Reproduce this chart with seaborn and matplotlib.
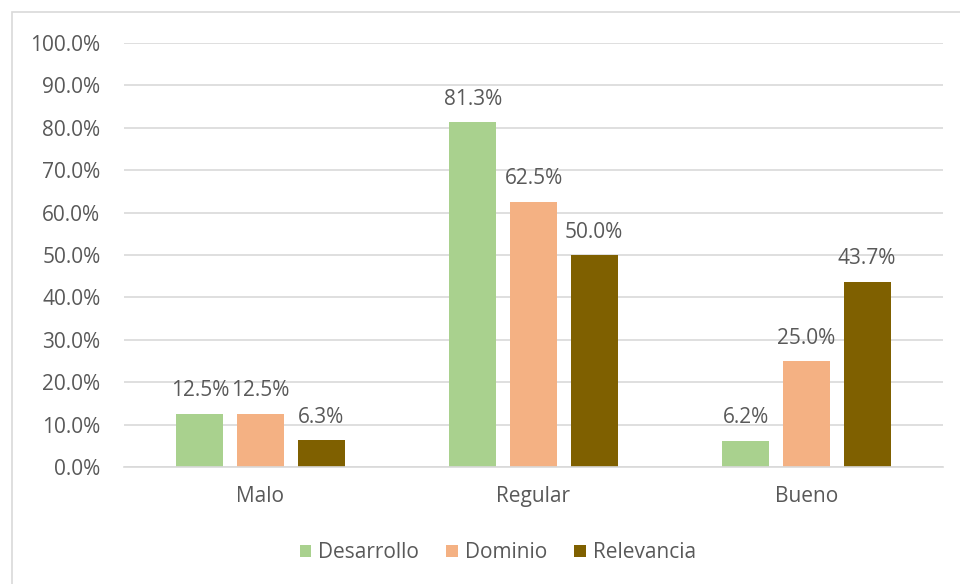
import matplotlib
matplotlib.use("Agg")
import matplotlib.pyplot as plt
import seaborn as sns
import pandas as pd
from matplotlib.patches import Rectangle

categories = ["Malo", "Regular", "Bueno"]
series = ["Desarrollo", "Dominio", "Relevancia"]
desarrollo = [12.5, 81.3, 6.2]
dominio = [12.5, 62.5, 25.0]
relevancia = [6.3, 50.0, 43.7]
colors = ["#A9D18E", "#F4B183", "#7F6000"]
yticks = [0, 10, 20, 30, 40, 50, 60, 70, 80, 90, 100]

rows = []
for name, vals in zip(series, [desarrollo, dominio, relevancia]):
    for c, v in zip(categories, vals):
        rows.append({"Categoria": c, "Serie": name, "Valor": v})
df = pd.DataFrame(rows)

sns.set_style("white")
plt.rcParams["font.family"] = ["Open Sans", "DejaVu Sans"]
text_color = "#595959"
fs = 15

fig = plt.figure(figsize=(9.6, 5.84), dpi=100)
ax = fig.add_axes([124 / 960, 1 - 467 / 584, 819 / 960, 424 / 584])

sns.barplot(data=df, x="Categoria", y="Valor", hue="Serie", order=categories,
            hue_order=series, palette=colors, width=0.666, gap=0.223,
            saturation=1, ax=ax, legend=True, errorbar=None, linewidth=0)

for cont in ax.containers:
    ax.bar_label(cont, labels=[f"{v:.1f}%" for v in cont.datavalues],
                 padding=9, fontsize=fs, color=text_color)

ax.set_ylim(0, 100)
ax.set_xlim(-0.5, 2.5)
ax.set_yticks(yticks)
ax.set_yticklabels([f"{t:.1f}%" for t in yticks])
ax.yaxis.grid(True, color="#D9D9D9", linewidth=1.2)
ax.set_axisbelow(True)
for s in ["top", "right", "left"]:
    ax.spines[s].set_visible(False)
ax.spines["bottom"].set_color("#D9D9D9")
ax.spines["bottom"].set_linewidth(1.2)
ax.tick_params(axis="both", length=0, labelsize=fs, colors=text_color)
ax.tick_params(axis="y", pad=17)
ax.tick_params(axis="x", pad=14)
ax.set_xlabel("")
ax.set_ylabel("")

leg = ax.legend(loc="center", bbox_to_anchor=(498 / 960, 1 - 553 / 584),
                bbox_transform=fig.transFigure, ncol=3, frameon=False,
                fontsize=fs, handlelength=0.55, handleheight=0.55,
                handletextpad=0.35, columnspacing=1.3)
for t in leg.get_texts():
    t.set_color(text_color)

fig.patches.append(Rectangle((12 / 960, -0.05), 1.0, 1 - 12 / 584 + 0.05,
                             transform=fig.transFigure, fill=False,
                             edgecolor="#D9D9D9", linewidth=1.2))

fig.savefig("out.png", dpi=100, facecolor="white")
